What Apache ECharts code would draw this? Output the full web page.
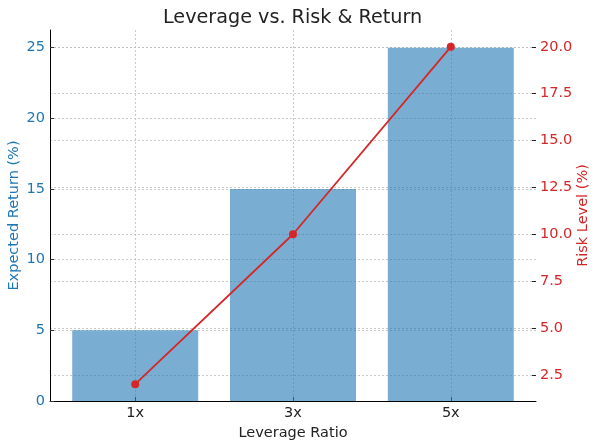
<!DOCTYPE html>
<html>
<head>
<meta charset="utf-8">
<script src="https://cdn.jsdelivr.net/npm/echarts@6/dist/echarts.min.js"></script>
<style>
html, body { margin: 0; padding: 0; background: #fff; }
#main { width: 600px; height: 448px; }
</style>
</head>
<body>
<div id="main"></div>
<script>
var ratios = ['1x', '3x', '5x'];
var expectedReturn = [5, 15, 25];
var riskLevel = [2, 10, 20];
var returnTicks = [0, 5, 10, 15, 20, 25];
var riskTicks = [2.5, 5, 7.5, 10, 12.5, 15, 17.5, 20];
var ratioTicks = [0, 1, 2];

var FONT = 'DejaVu Sans';
var BLUE = '#1f77b4';
var RED = '#d62728';
var gridLine = { show: true, lineStyle: { color: '#bdbdbd', type: [2, 2], width: 0.8 } };

var myChart = echarts.init(document.getElementById('main'));

var option = {
    backgroundColor: '#fff',
    animation: false,
    title: {
        text: 'Leverage vs. Risk & Return',
        left: 158,
        top: 4,
        textStyle: { fontFamily: FONT, fontSize: 19.2, fontWeight: 'normal', color: '#222' }
    },
    grid: { left: 50, right: 64, top: 30, bottom: 47, outerBoundsMode: 'none', containLabel: false },
    xAxis: {
        type: 'value',
        min: -0.54,
        max: 2.54,
        name: 'Leverage Ratio',
        nameLocation: 'middle',
        nameGap: 25,
        nameTextStyle: { fontFamily: FONT, fontSize: 14.5, color: '#222' },
        axisLine: { show: true, onZero: false, lineStyle: { color: '#000', width: 1 } },
        axisTick: { show: true, inside: true, length: 4, customValues: ratioTicks, lineStyle: { color: '#333' } },
        axisLabel: {
            customValues: ratioTicks,
            fontFamily: FONT, fontSize: 14.5, color: '#222', margin: 5,
            formatter: function (v) { return ratios[Math.round(v)]; }
        },
        splitLine: gridLine
    },
    yAxis: [{
        type: 'value',
        min: 0,
        max: 26.25,
        name: 'Expected Return (%)',
        nameLocation: 'middle',
        nameRotate: 90,
        nameGap: 28,
        nameMoveOverlap: false,
        nameTextStyle: { fontFamily: FONT, fontSize: 14.5, color: BLUE },
        axisLine: { show: true, onZero: false, lineStyle: { color: '#000', width: 1 } },
        axisTick: { show: true, inside: true, length: 4, customValues: returnTicks, lineStyle: { color: '#333' } },
        axisLabel: { customValues: returnTicks, fontFamily: FONT, fontSize: 14.5, color: BLUE, margin: 5 },
        splitLine: gridLine
    }, {
        type: 'value',
        position: 'right',
        min: 1.1,
        max: 20.9,
        name: 'Risk Level (%)',
        nameLocation: 'middle',
        nameRotate: 90,
        nameGap: 40,
        nameMoveOverlap: false,
        nameTextStyle: { fontFamily: FONT, fontSize: 14.5, color: RED },
        axisLine: { show: false, onZero: false },
        axisTick: { show: true, inside: true, length: 4, customValues: riskTicks, lineStyle: { color: '#222' } },
        axisLabel: {
            customValues: riskTicks,
            fontFamily: FONT, fontSize: 14.5, color: RED, margin: 4,
            formatter: function (v) { return v.toFixed(1); }
        },
        splitLine: gridLine
    }],
    series: [{
        name: 'Expected Return (%)',
        type: 'bar',
        barWidth: 126,
        data: expectedReturn.map(function (v, i) { return [ratioTicks[i], v]; }),
        itemStyle: { color: BLUE, opacity: 0.6 }
    }, {
        name: 'Risk Level (%)',
        type: 'line',
        yAxisIndex: 1,
        data: riskLevel.map(function (v, i) { return [ratioTicks[i], v]; }),
        symbol: 'circle',
        symbolSize: 8,
        lineStyle: { color: RED, width: 1.8 },
        itemStyle: { color: RED },
        z: 5
    }]
};
myChart.setOption(option);
</script>
</body>
</html>
